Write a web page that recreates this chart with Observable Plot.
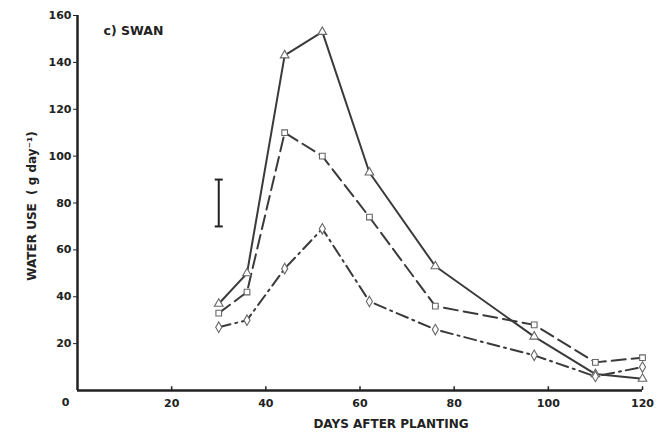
<!DOCTYPE html>
<html>
<head>
<meta charset="utf-8">
<script src="https://cdn.jsdelivr.net/npm/d3@7"></script>
<script src="https://cdn.jsdelivr.net/npm/@observablehq/plot@0.6"></script>
<style>
  body { margin: 0; background: #fff; }
  svg { font-family: "DejaVu Sans", "Liberation Sans", sans-serif; }
</style>
</head>
<body>
<div id="chart"></div>
<script>
// Days after planting
const days = [30, 36, 44, 52, 62, 76, 97, 110, 120];
// Water use (g day^-1) for three treatments
const triangleSeries = [37, 50, 143, 153, 93, 53, 23, 7, 5];
const squareSeries   = [33, 42, 110, 100, 74, 36, 28, 12, 14];
const diamondSeries  = [27, 30, 52, 69, 38, 26, 15, 6, 10];
// Error bar (LSD) at day 30
const errorBar = [{ day: 30, lo: 70, hi: 90 }];
// Axis ticks
const xTicks = [20, 40, 60, 80, 100, 120];
const yTicks = [20, 40, 60, 80, 100, 120, 140, 160];
const title = "c) SWAN";
const xLabel = "DAYS AFTER PLANTING";
const yLabel = "WATER USE  ( g day\u207B\u00B9)";

const tri = days.map((d, i) => ({ day: d, v: triangleSeries[i] }));
const sq  = days.map((d, i) => ({ day: d, v: squareSeries[i] }));
const dia = days.map((d, i) => ({ day: d, v: diamondSeries[i] }));

const ink = "#222";
const lineInk = "#3a3a3a";
const markInk = "#666";
const font = "DejaVu Sans, Liberation Sans, sans-serif";
const capSymbol = { draw(ctx) { ctx.moveTo(-4, 0); ctx.lineTo(4, 0); } };

const chart = Plot.plot({
  width: 660,
  height: 439,
  marginLeft: 77,
  marginRight: 18,
  marginTop: 15,
  marginBottom: 49,
  style: { fontFamily: font, fontSize: "11px", color: ink, background: "#fff" },
  x: { domain: [0, 120] },
  y: { domain: [0, 160] },
  marks: [
    // lines
    Plot.line(tri, { x: "day", y: "v", stroke: lineInk, strokeWidth: 2 }),
    Plot.line(sq,  { x: "day", y: "v", stroke: lineInk, strokeWidth: 2, strokeDasharray: "14,6" }),
    Plot.line(dia, { x: "day", y: "v", stroke: lineInk, strokeWidth: 2, strokeDasharray: "12,5,2,5" }),
    // markers
    Plot.dot(tri, { x: "day", y: "v", symbol: "triangle", r: 3.2, fill: "white", stroke: markInk, strokeWidth: 1.1 }),
    Plot.dot(sq,  { x: "day", y: "v", symbol: "square", r: 3.2, fill: "white", stroke: markInk, strokeWidth: 1.1 }),
    Plot.dot(dia, { x: "day", y: "v", symbol: "diamond", r: 3.2, fill: "white", stroke: markInk, strokeWidth: 1.1 }),
    // error bar
    Plot.ruleX(errorBar, { x: "day", y1: "lo", y2: "hi", stroke: ink, strokeWidth: 2 }),
    Plot.dot(errorBar, { x: "day", y: "lo", symbol: capSymbol, r: 3, stroke: ink, strokeWidth: 2 }),
    Plot.dot(errorBar, { x: "day", y: "hi", symbol: capSymbol, r: 3, stroke: ink, strokeWidth: 2 }),
    // axes
    Plot.axisY({ ticks: yTicks, tickSize: 4, tickPadding: 2, label: null, fontWeight: "bold", fontSize: 11, stroke: ink, fill: ink }),
    Plot.axisX({ ticks: xTicks, tickSize: 0, tickPadding: 9, label: null, fontWeight: "bold", fontSize: 11, fill: ink }),
    Plot.ruleX(xTicks, { x: d => d, y1: 0, y2: 1.6, stroke: ink, strokeWidth: 1.5 }),
    Plot.text([0], { x: d => d, frameAnchor: "bottom", dy: 15, dx: -12, text: d => String(d), fontWeight: "bold", fontSize: 11, fill: ink }),
    Plot.ruleX([0], { y1: 0, y2: 160, stroke: ink, strokeWidth: 2.5 }),
    Plot.ruleY([0], { x1: 0, x2: 120, stroke: ink, strokeWidth: 2.5 }),
    // labels
    Plot.text([title], { frameAnchor: "top-left", dx: 26, dy: 11, textAnchor: "start", fontWeight: "bold", fontSize: 12.5, fill: ink }),
    Plot.text([xLabel], { frameAnchor: "bottom", textAnchor: "middle", dx: 31, dy: 37, fontWeight: "bold", fontSize: 12, fill: ink }),
    Plot.text([yLabel], { frameAnchor: "left", textAnchor: "middle", dx: -45, dy: 3, rotate: -90, fontWeight: "bold", fontSize: 12, fill: ink })
  ]
});
document.getElementById("chart").appendChild(chart);
</script>
</body>
</html>
